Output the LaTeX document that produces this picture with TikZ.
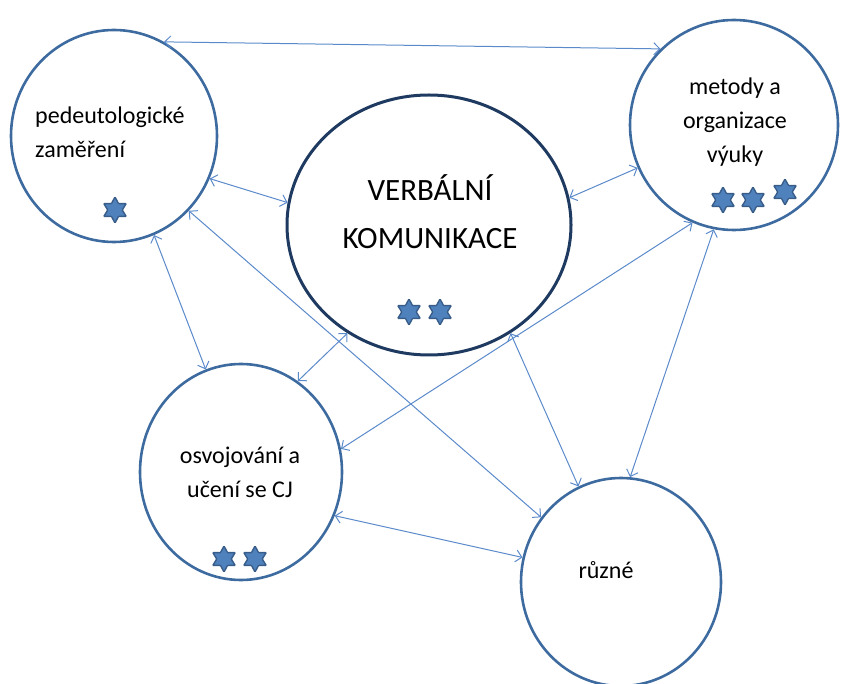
\documentclass[tikz,border=0pt]{standalone}
\usepackage{fontspec}
\setmainfont{Carlito}
\usetikzlibrary{shapes.geometric,arrows.meta}

\definecolor{ringblue}{HTML}{3D6BA0}
\definecolor{ringnavy}{HTML}{1F3A60}
\definecolor{linkblue}{HTML}{5B8ACB}
\definecolor{starfill}{HTML}{4F81BD}
\definecolor{starline}{HTML}{385D8A}

\tikzset{
	bubble/.style={ellipse, draw=ringblue, line width=2.6pt, inner sep=0pt},
	link/.style={{Straight Barb[length=6pt,width=12pt]}-{Straight Barb[length=6pt,width=12pt]}, draw=linkblue, line width=1pt},
	starmark/.style={star, star points=6, star point ratio=1.8, minimum size=26pt, inner sep=0pt, fill=starfill, draw=starline, line width=1.4pt, rounded corners=0.8pt},
	txt/.style={inner sep=0pt, font=\fontsize{24}{34}\selectfont}
}

\begin{document}
\begin{tikzpicture}[x=1pt,y=-1pt]
			\useasboundingbox (0,0) rectangle (854,684);
			
			% kruhy
			\node[bubble, minimum width=206pt, minimum height=212pt] (ped) at (114,136) {};
			\node[bubble, draw=ringnavy, line width=3pt, minimum width=284pt, minimum height=260pt] (verb) at (429,225) {};
			\node[bubble, minimum width=208pt, minimum height=210pt] (met) at (734,125) {};
			\node[bubble, minimum width=202pt, minimum height=216pt] (osv) at (241,472) {};
			\node[bubble, minimum width=200pt, minimum height=208pt] (ruz) at (621,582) {};
			
			% texty
			\node[txt, align=left, anchor=west] (pedtxt) at (35,132) {pedeutologické\\zaměření};
			\node[txt, align=center, font=\fontsize{31}{48}\selectfont] (verbtxt) at (430,212) {VERBÁLNÍ\\KOMUNIKACE};
			\node[txt, align=center] (mettxt) at (735,122) {metody a\\organizace\\výuky};
			\node[txt, align=center] (osvtxt) at (240,472) {osvojování a\\učení se CJ};
			\node[txt] (ruztxt) at (606,570) {různé};
			
			% hvezdy
			\node[starmark] (s1) at (115,210) {};
			\node[starmark] (s2) at (409,312) {};
			\node[starmark] (s3) at (440,312) {};
			\node[starmark] (s4) at (723,200) {};
			\node[starmark] (s5) at (753,200) {};
			\node[starmark] (s6) at (785,192) {};
			\node[starmark] (s7) at (224,559) {};
			\node[starmark] (s8) at (255,559) {};
			
			% vazby
			\draw[link] (ped.62) -- (met.134);
			\draw[link] (ped.-24) -- (verb.171);
			\draw[link] (verb.11) -- (met.-156);
			\draw[link] (ped.-68) -- (osv.109);
			\draw[link] (ped.-45) -- (ruz.141);
			\draw[link] (verb.-127) -- (osv.58);
			\draw[link] (verb.-53) -- (ruz.114);
			\draw[link] (met.-113) -- (osv.13);
			\draw[link] (met.-101) -- (ruz.85);
			\draw[link] (osv.-25) -- (ruz.166);
		\end{tikzpicture}
\end{document}
